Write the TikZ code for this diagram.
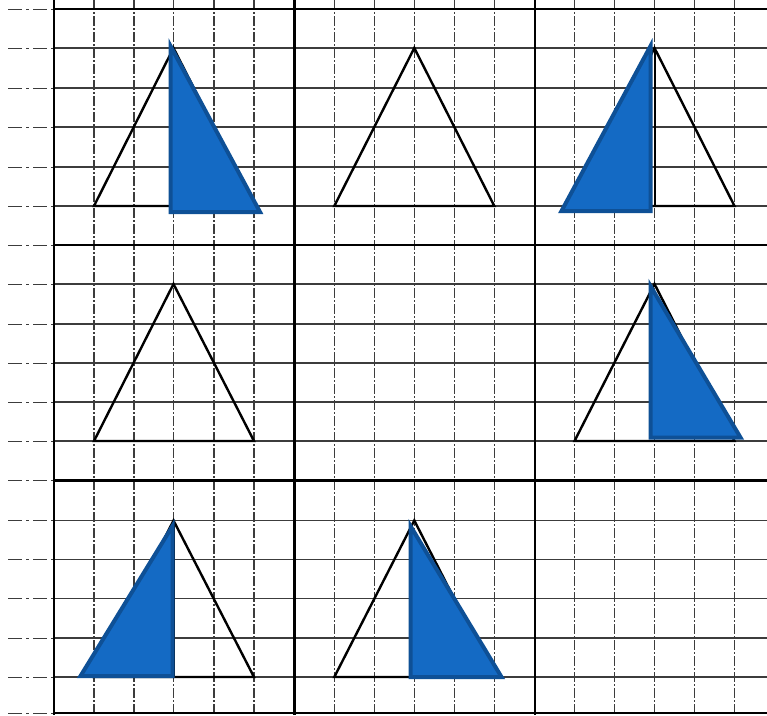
\documentclass[tikz,border=0pt]{standalone}
\definecolor{triblue}{RGB}{20,106,196}
\definecolor{triedge}{RGB}{14,80,150}
\definecolor{gridgray}{RGB}{60,60,60}
\begin{document}
\begin{tikzpicture}[x=1pt,y=-1pt,
  thickline/.style={line width=2.6pt,black},
  hline/.style={line width=1.1pt,gridgray},
  marginline/.style={line width=1pt,gridgray,dash pattern=on 14pt off 4pt on 3pt off 4pt},
  vline/.style={line width=1.1pt,gridgray,dash pattern=on 10pt off 2pt on 2pt off 2pt},
  outline/.style={line width=2.4pt,black,line join=miter},
  halfline/.style={line width=2pt,black},
  shade/.style={fill=triblue,draw=triedge,line width=4pt,line join=miter}]
\useasboundingbox (0,0) rectangle (767,715);
\fill[white] (0,0) rectangle (767,715);
% fine grid
\foreach \y in {48,88,127,167,206,284,324,363,402,441,520.5,559.5,598.5,638,677}{
  \draw[marginline] (8,\y) -- (54,\y);
  \draw[hline] (54,\y) -- (767,\y);
}
\foreach \x in {94,134,173.5,214,254,334.3,374.3,414.3,454.3,494.3,574.5,614.5,654.5,694.5,734.5}
  \draw[vline] (\x,0) -- (\x,715);
% thick grid
\foreach \y in {9,245,480.5,713}{
  \draw[marginline] (8,\y) -- (54,\y);
  \draw[thickline] (54,\y) -- (767,\y);
}
\foreach \x in {54,294.5,535}
  \draw[thickline] (\x,0) -- (\x,715);
% outlined triangles
\draw[outline] (173.5,48) -- (94,206) -- (254,206) -- cycle;
\draw[outline] (414.3,48) -- (334.3,206) -- (494.3,206) -- cycle;
\draw[outline] (654.5,48) -- (574.5,206) -- (734.5,206) -- cycle;
\draw[halfline] (654.5,48) -- (654.5,206);
\draw[outline] (173.5,284) -- (94,441) -- (254,441) -- cycle;
\draw[outline] (654.5,284) -- (574.5,441) -- (734.5,441) -- cycle;
\draw[outline] (173.5,520.5) -- (94,677) -- (254,677) -- cycle;
\draw[halfline] (173.5,520.5) -- (173.5,677);
\draw[outline] (414.3,520.5) -- (334.3,677) -- (494.3,677) -- cycle;
% shaded halves
\draw[shade] (170.5,46) -- (170.5,212) -- (260,212) -- cycle;
\draw[shade] (650.5,46) -- (650.5,211) -- (561.5,211) -- cycle;
\draw[shade] (650.5,286) -- (650.5,437.5) -- (740.5,437.5) -- cycle;
\draw[shade] (172.5,526) -- (172.5,676) -- (80.5,676) -- cycle;
\draw[shade] (410.5,526) -- (410.5,677) -- (501.5,677) -- cycle;
\end{tikzpicture}
\end{document}
